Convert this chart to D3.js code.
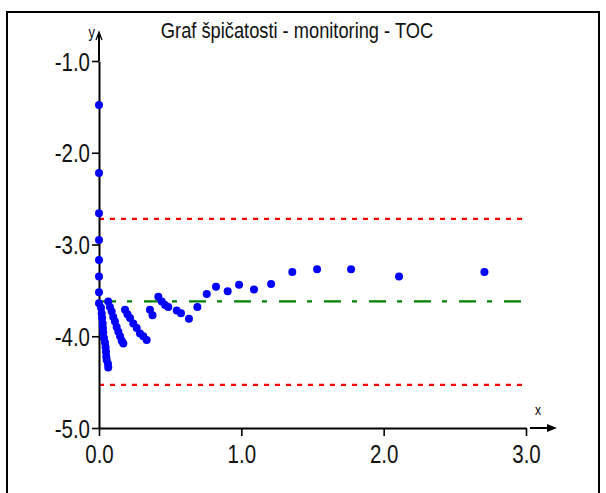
<!DOCTYPE html>
<html>
<head>
<meta charset="utf-8">
<script src="https://cdn.jsdelivr.net/npm/d3@7"></script>
<style>
  body { margin: 0; background: #fff; }
  svg text { font-family: "Liberation Sans", Arial, sans-serif; }
</style>
</head>
<body>
<div id="chart"></div>
<script>
const title = "Graf špičatosti - monitoring - TOC"
const xTicks = [0, 1, 2, 3]
const yTicks = [-1, -2, -3, -4, -5]

// body points
const xs = [
  0, 0, 0, 0, 0, 0, 0, 0,
  0.014, 0.019, 0.022, 0.026, 0.028, 0.030, 0.035, 0.042, 0.046, 0.049, 0.051, 0.054, 0.063, 0.065,
  0.065, 0.077, 0.089, 0.100, 0.112, 0.124, 0.136, 0.148, 0.160, 0.171,
  0.183, 0.200, 0.218, 0.241, 0.265, 0.288, 0.311, 0.335,
  0.358, 0.376,
  0.417, 0.441, 0.464, 0.487, 0.546, 0.576, 0.632, 0.691, 0.757, 0.822, 0.904, 0.984,
  1.089, 1.209, 1.358, 1.532, 1.771, 2.108, 2.708
]
const ys = [
  -1.48, -2.22, -2.66, -2.95, -3.17, -3.35, -3.52, -3.64,
  -3.69, -3.75, -3.80, -3.86, -3.91, -3.96, -4.02, -4.07, -4.12, -4.17, -4.22, -4.26, -4.30, -4.34,
  -3.62, -3.68, -3.73, -3.79, -3.84, -3.90, -3.95, -4.00, -4.05, -4.08,
  -3.71, -3.76, -3.80, -3.86, -3.91, -3.97, -4.00, -4.04,
  -3.71, -3.77,
  -3.57, -3.62, -3.66, -3.68, -3.72, -3.75, -3.81, -3.68, -3.54, -3.46, -3.51, -3.44,
  -3.49, -3.43, -3.30, -3.27, -3.27, -3.35, -3.30
]
const meanLevel = -3.62
const limits = [-2.72, -4.53]
const lineRange = [0, 3]

const width = 606, height = 493
const svg = d3.select("#chart").append("svg")
  .attr("width", width).attr("height", height)
  .attr("viewBox", [0, 0, width, height])

// squeeze text horizontally, the original font is narrow
const condense = (sel, k) => sel.each(function () {
  const len = this.getComputedTextLength()
  d3.select(this).attr("textLength", len * k).attr("lengthAdjust", "spacingAndGlyphs")
})

// window frame
svg.append("path")
  .attr("d", "M7,493V12H599V493")
  .attr("fill", "none").attr("stroke", "#000").attr("stroke-width", 2)

const x = d3.scaleLinear().domain([0, 3]).range([99, 526])
const y = d3.scaleLinear().domain([-5, -1]).range([428, 61])

svg.append("text")
  .attr("x", 297).attr("y", 38)
  .attr("text-anchor", "middle")
  .attr("font-size", 22)
  .attr("fill", "#111")
  .text(title)
  .call(condense, 0.83)

// reference lines
svg.append("g")
  .selectAll("line")
  .data(limits)
  .join("line")
  .attr("x1", x(lineRange[0])).attr("x2", x(lineRange[1]))
  .attr("y1", d => y(d)).attr("y2", d => y(d))
  .attr("stroke", "#ff0000").attr("stroke-width", 2.2)
  .attr("stroke-dasharray", "5,6")

svg.append("line")
  .attr("x1", x(lineRange[0])).attr("x2", x(lineRange[1]))
  .attr("y1", y(meanLevel)).attr("y2", y(meanLevel))
  .attr("stroke", "#008000").attr("stroke-width", 2.2)
  .attr("stroke-dasharray", "17,11,5,12")

// axes
const fmt = d => d.toFixed(1)
const yAxis = svg.append("g")
  .attr("transform", `translate(${x(0)},0)`)
  .call(d3.axisLeft(y).tickValues(yTicks).tickFormat(fmt).tickSizeInner(7).tickSizeOuter(0).tickPadding(2))
const xAxis = svg.append("g")
  .attr("transform", `translate(0,${y(-5)})`)
  .call(d3.axisBottom(x).tickValues(xTicks).tickFormat(fmt).tickSizeInner(8).tickSizeOuter(0).tickPadding(9))

for (const g of [xAxis, yAxis]) {
  g.select(".domain").attr("stroke-width", 2)
  g.selectAll(".tick line").attr("stroke-width", 1.6)
  g.selectAll(".tick text").attr("font-size", 25).attr("fill", "#111")
    .style("font-family", '"Liberation Sans", Arial, sans-serif')
    .call(condense, 0.82)
}
yAxis.selectAll(".tick text").attr("dy", "0.36em")

// y axis extension + arrow
svg.append("line")
  .attr("x1", x(0)).attr("x2", x(0)).attr("y1", y(-1)).attr("y2", 33)
  .attr("stroke", "#000").attr("stroke-width", 2)
svg.append("path")
  .attr("d", `M${x(0) - 3},40L${x(0)},32L${x(0) + 3},40`)
  .attr("fill", "none").attr("stroke", "#000").attr("stroke-width", 1.3)
svg.append("text")
  .attr("x", 95).attr("y", 38).attr("text-anchor", "end")
  .attr("font-size", 16).text("y")
  .call(condense, 0.8)

// x axis arrow
svg.append("line")
  .attr("x1", 530).attr("x2", 553).attr("y1", y(-5)).attr("y2", y(-5))
  .attr("stroke", "#000").attr("stroke-width", 2)
svg.append("path")
  .attr("d", `M547,${y(-5) - 4}L557,${y(-5)}L547,${y(-5) + 4}Z`)
  .attr("fill", "#000")
svg.append("text")
  .attr("x", 538).attr("y", 415).attr("text-anchor", "middle")
  .attr("font-size", 15).text("x")
  .call(condense, 0.8)

// points
svg.append("g")
  .selectAll("circle")
  .data(d3.range(xs.length))
  .join("circle")
  .attr("cx", i => x(xs[i]))
  .attr("cy", i => y(ys[i]))
  .attr("r", 4)
  .attr("fill", "#0000ff")
</script>
</body>
</html>
